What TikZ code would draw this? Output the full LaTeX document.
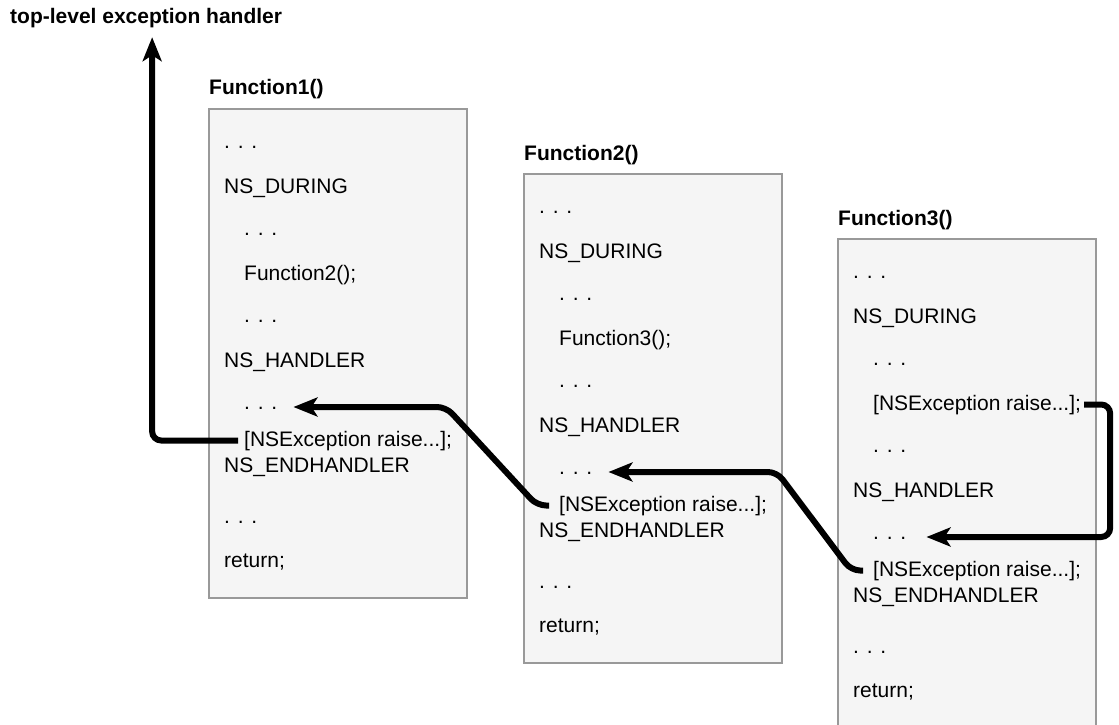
\documentclass[tikz,border=0pt]{standalone}
\usepackage{fontspec}
\setmainfont{Liberation Sans}
\usetikzlibrary{arrows.meta,calc}

\tikzset{box/.style = {draw=black!40, line width=2pt, fill=black!4, anchor=north west, minimum width=258pt, minimum height=489pt, inner sep=0}}
\tikzset{code/.style = {anchor=base west, inner sep=0, text height=15pt, text depth=4pt, font=\fontsize{21}{25}\selectfont}}
\tikzset{title/.style = {code, font=\fontsize{21}{25}\selectfont\bfseries}}
\tikzset{flow/.style = {line width=6pt, rounded corners=9pt, -{Stealth[length=24pt,width=19pt,inset=6pt]}}}

% one function body: name, x, y (top), title, fourth line
\newcommand{\codebox}[5]{%
    \node[box] (#1) at (#2,#3) {};
    \node[title] (#1-t) at ([shift={(1pt,13pt)}]#1.north west) {#4};
    \foreach \i/\xo/\yo/\txt in {1/16/40/{. . .}, 2/16/85/{NS\_DURING}, 3/36/127/{. . .},
                                  4/36/172/{#5}, 5/36/214/{. . .}, 6/16/259/{NS\_HANDLER},
                                  7/36/301/{. . .}, 8/36/338/{[NSException raise...];},
                                  9/16/364/{NS\_ENDHANDLER}, 10/16/415/{. . .}, 11/16/459/{return;}}
        \node[code] (#1-\i) at ([shift={(\xo pt,-\yo pt)}]#1.north west) {\txt};
}

\begin{document}
\begin{tikzpicture}[x=1pt, y=-1pt]
    \useasboundingbox (0,0) rectangle (1119,725);
    \node[title] (top) at (10,24) {top-level exception handler};

    \codebox{f1}{208}{108}{Function1()}{Function2();}
    \codebox{f2}{523}{173}{Function2()}{Function3();}
    \codebox{f3}{837}{238}{Function3()}{[NSException raise...];}

    % raise -> enclosing handler
    \draw[flow] ([xshift=3pt]f3-4.east) -- ++(26,0) |- ([shift={(20pt,2pt)}]f3-7.base east);
    \draw[flow] ([xshift=-10pt]f3-8.west) -- ++(-12,0) -- ($(f2.east |- f2-7.base)+(-6,-2)$) -- ([shift={(16pt,2pt)}]f2-7.base east);
    \draw[flow] ([xshift=-10pt]f2-8.west) -- ++(-12,0) -- ($(f1.east |- f1-7.base)+(-22,-2)$) -- ([shift={(16pt,2pt)}]f1-7.base east);
    \draw[flow] ([xshift=-6pt]f1-8.west) -| ([shift={(6pt,-9pt)}]top.south);

\end{tikzpicture}
\end{document}
